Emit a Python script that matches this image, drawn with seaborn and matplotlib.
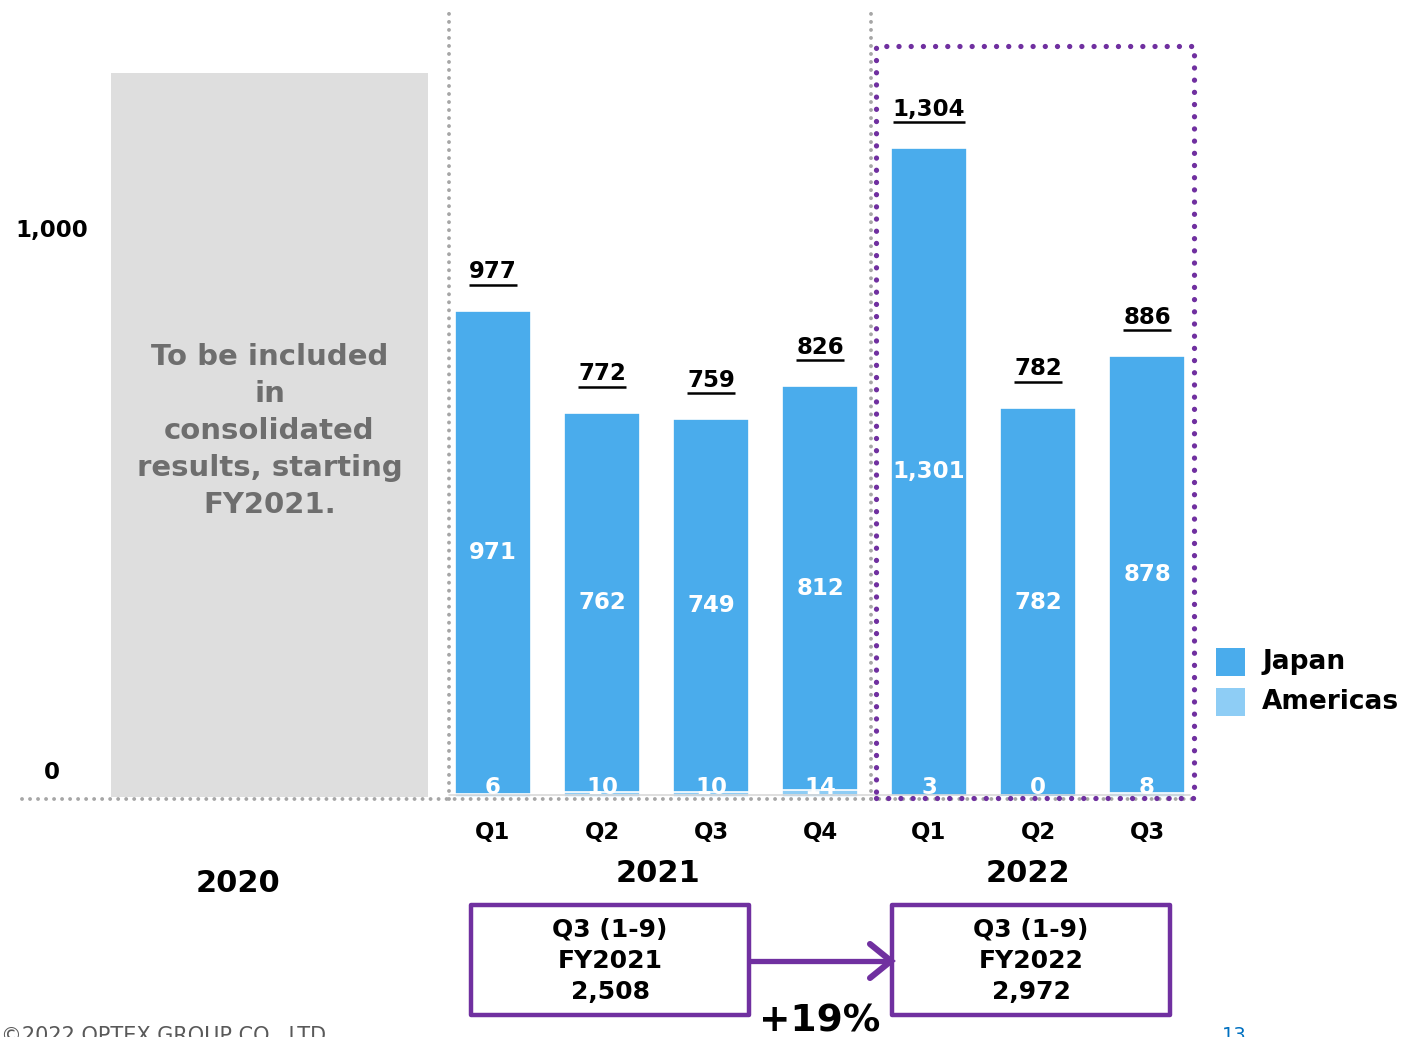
import matplotlib
matplotlib.use("Agg")
import matplotlib.pyplot as plt
import seaborn as sns
import pandas as pd
from matplotlib.patches import Rectangle, FancyBboxPatch

# ---------------- data ----------------
categories = ["2021 Q1", "2021 Q2", "2021 Q3", "2021 Q4", "2022 Q1", "2022 Q2", "2022 Q3"]
tick_labels = ["Q1", "Q2", "Q3", "Q4", "Q1", "Q2", "Q3"]
japan = [971, 762, 749, 812, 1301, 782, 878]
americas = [6, 10, 10, 14, 3, 0, 8]
totals = [977, 772, 759, 826, 1304, 782, 886]
year_labels = ["2020", "2021", "2022"]
ytick_labels = ["0", "1,000"]
cum_labels = ["Q3 (1-9)\nFY2021\n2,508", "Q3 (1-9)\nFY2022\n2,972"]
growth_label = "+19%"
placeholder_text = "To be included\nin\nconsolidated\nresults, starting\nFY2021."

JAPAN_C = "#4AACEC"
AMER_C = "#8ECDF5"
PURPLE = "#7030A0"
GRAY_BOX = "#DEDEDE"
GRAY_TXT = "#6E6E6E"
DOT_GRAY = "#A6A6A6"

sns.set_style("white")
plt.rcParams["font.family"] = ["DejaVu Sans"]

W, H = 1406, 1037
fig = plt.figure(figsize=(W / 100, H / 100), dpi=100)

# axes: left edge at px 100, bottom at px 797 (zero line), top at px 0
AX_L, AX_B = 100, 797
ax = fig.add_axes([AX_L / W, (H - AX_B) / H, (W - AX_L) / W, AX_B / H])
PX_PER_CAT = 109.0
X0_PX = 493.0
PX_PER_UNIT = 0.4975


def xd(px):
    return (px - X0_PX) / PX_PER_CAT


def yd(py):
    return (AX_B - py) / PX_PER_UNIT


df = pd.DataFrame({"cat": categories, "japan": japan, "americas": americas, "total": totals})

# background placeholder box for 2020
ax.add_patch(FancyBboxPatch((xd(111), 0), xd(428) - xd(111), yd(73),
                            boxstyle="round,pad=0,rounding_size=0.04",
                            fc=GRAY_BOX, ec="none", zorder=0,
                            mutation_aspect=PX_PER_CAT / PX_PER_UNIT / 109))
ax.text((xd(111) + xd(428)) / 2, yd(431), placeholder_text, ha="center", va="center",
        fontsize=21, fontweight="bold", color=GRAY_TXT, linespacing=1.42, zorder=1)

# stacked bars: total (Japan colour) then Americas on the bottom
sns.barplot(data=df, x="cat", y="total", order=categories, color=JAPAN_C, width=0.69,
            edgecolor="white", linewidth=1.2, saturation=1, ax=ax, zorder=2)
sns.barplot(data=df, x="cat", y="americas", order=categories, color=AMER_C, width=0.69,
            edgecolor="white", linewidth=1.2, saturation=1, ax=ax, zorder=3)

ax.set_xlim(xd(AX_L), xd(W))
ax.set_ylim(0, yd(0))
for s in ax.spines.values():
    s.set_visible(False)

ax.set_xticks(range(len(categories)))
ax.set_xticklabels(tick_labels, fontsize=16.5, fontweight="bold", color="black")
ax.set_yticks([yd(770), yd(228)])
ax.set_yticklabels(ytick_labels, fontsize=16.5, fontweight="bold", color="black")
for t in ax.get_yticklabels():
    t.set_horizontalalignment("center")
ax.tick_params(axis="x", length=0, pad=17)
ax.tick_params(axis="y", length=0, pad=35)
ax.set_xlabel("")
ax.set_ylabel("")
ax.grid(False)

# labels on bars
fig.canvas.draw()
renderer = fig.canvas.get_renderer()
inv = ax.transData.inverted()
for i, (j, a, t) in enumerate(zip(japan, americas, totals)):
    ax.text(i, j / 2 + a, f"{j:,}", ha="center", va="center", fontsize=16.5,
            fontweight="bold", color="white", zorder=5)
    ax.text(i, yd(787), f"{a:,}", ha="center", va="center", fontsize=16.5,
            fontweight="bold", color="white", zorder=5, clip_on=False)
    tl = ax.text(i, t + 39 / PX_PER_UNIT, f"{t:,}", ha="center", va="center", fontsize=16.5,
                 fontweight="bold", color="black", zorder=5)
    bb = tl.get_window_extent(renderer)
    (x0, _), (x1, _) = inv.transform([(bb.x0, 0), (bb.x1, 0)])
    ax.plot([x0, x1], [t + 26 / PX_PER_UNIT] * 2, color="black", lw=1.8, zorder=5,
            solid_capstyle="butt")

# thin grey zero line and dotted baseline
ax.plot([xd(449), xd(1190)], [yd(795)] * 2, color="#D9D9D9", lw=1.2, zorder=4, clip_on=False)
dot_gray = dict(color=DOT_GRAY, lw=2.8, linestyle=(0, (0.01, 2.05)), dash_capstyle="round",
                clip_on=False, zorder=4)
ax.plot([xd(22), xd(1196)], [yd(799)] * 2, **dot_gray)
ax.plot([xd(449), xd(449)], [yd(799), yd(8)], **dot_gray)
ax.plot([xd(871), xd(871)], [yd(799), yd(8)], **dot_gray)

# purple dotted highlight frame
px_x0, px_x1, px_y0, px_y1 = 876, 1194, 46, 798
ax.plot([xd(px_x0), xd(px_x1), xd(px_x1), xd(px_x0), xd(px_x0)],
        [yd(px_y1), yd(px_y1), yd(px_y0), yd(px_y0), yd(px_y1)],
        color=PURPLE, lw=3.8, linestyle=(0, (0.01, 2.3)), dash_capstyle="round",
        clip_on=False, zorder=6)

# year labels
for lbl, (px, py) in zip(year_labels, [(238, 883), (658, 874), (1028, 874)]):
    ax.text(xd(px), yd(py), lbl, ha="center", va="center", fontsize=22,
            fontweight="bold", color="black", clip_on=False)

# cumulative comparison boxes
for lbl, (bx0, bx1) in zip(cum_labels, [(471, 749), (892, 1170)]):
    ax.add_patch(Rectangle((xd(bx0), yd(1015)), xd(bx1) - xd(bx0), yd(905) - yd(1015),
                           fill=False, ec=PURPLE, lw=3.2, clip_on=False, zorder=6,
                           joinstyle="round"))
    ax.text((xd(bx0) + xd(bx1)) / 2, yd(961), lbl, ha="center", va="center",
            fontsize=18, fontweight="bold", color="black", linespacing=1.38, clip_on=False)

# arrow between the boxes
ax.plot([xd(749), xd(890)], [yd(961)] * 2, color=PURPLE, lw=3.8,
        solid_capstyle="butt", clip_on=False, zorder=6)
ax.plot([xd(870), xd(891), xd(870)], [yd(944), yd(961), yd(978)], color=PURPLE, lw=4.4,
        solid_capstyle="round", solid_joinstyle="miter", clip_on=False, zorder=6)

ax.text(xd(820), yd(1021), growth_label, ha="center", va="center", fontsize=27,
        fontweight="bold", color="black", clip_on=False)

# footer (cut off at page bottom, as in the source slide)
fig.text(333 / W, 1 - 1026 / H, "©2022 OPTEX GROUP CO., LTD.", ha="right", va="top",
         fontsize=15, color="#595959")
fig.text(1234 / W, 1 - 1026 / H, "13", ha="center", va="top", fontsize=14, color="#0070C0")

# legend (manual)
for lbl, col, py in [("Japan", JAPAN_C, 662), ("Americas", AMER_C, 702)]:
    ax.add_patch(Rectangle((xd(1216), yd(py + 14)), xd(1245) - xd(1216), 28 / PX_PER_UNIT,
                           fc=col, ec="none", clip_on=False))
    ax.text(xd(1262), yd(py), lbl, ha="left", va="center", fontsize=19,
            fontweight="bold", color="black", clip_on=False)

fig.savefig("out.png", dpi=100)
